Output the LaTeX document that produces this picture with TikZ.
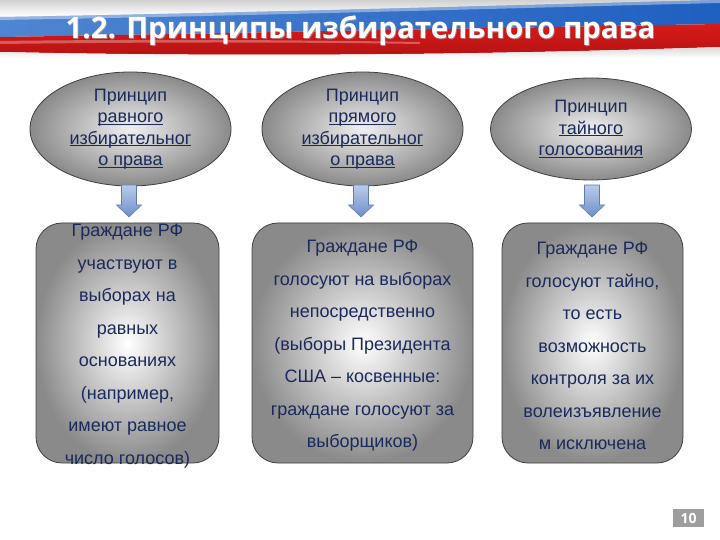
\documentclass[tikz,border=0pt]{standalone}
\usepackage{fontspec}
\setmainfont{Liberation Sans}
\newfontfamily\ttlfont{Open Sans}
\usetikzlibrary{calc,shapes.geometric}
\definecolor{txt}{HTML}{1B2A5C}
\definecolor{flagblue}{HTML}{1F5FC0}
\definecolor{flagbluel}{HTML}{4F86D2}
\definecolor{flagred}{HTML}{D81A1A}
\definecolor{flagredd}{HTML}{B51212}
\definecolor{shin}{HTML}{F0F0F0}
\definecolor{shout}{HTML}{8A8A8A}
\definecolor{arrtop}{HTML}{B9CBEA}
\definecolor{arrbot}{HTML}{6F8FC9}
\definecolor{arrline}{HTML}{5E7DB5}
\definecolor{pggray}{HTML}{9E9E9E}
\newcommand\ulx[1]{\setbox0\hbox{#1}\rlap{\rule[-2.3pt]{\wd0}{0.9pt}}\box0}
\begin{document}
\begin{tikzpicture}[x=1pt,y=-1pt,
  ell/.style={ellipse, draw=black!75, line width=0.8pt, shading=radial,
    inner color=shin, outer color=shout, minimum width=201pt, minimum height=102pt,
    inner sep=0pt, text=txt, align=center, font=\fontsize{18}{21.5}\selectfont},
  box/.style={draw=black!75, line width=0.8pt, rounded corners=26pt, shading=radial,
    inner color=white, outer color=shout, minimum height=240pt, inner sep=0pt},
  btxt/.style={text=txt, align=center, inner sep=0pt, font=\fontsize{18}{32.5}\selectfont},
  arr/.style={draw=arrline, line width=0.6pt, top color=arrtop, bottom color=arrbot},
  ttl/.style={text=white, inner sep=0pt, anchor=base, font=\ttlfont\bfseries\fontsize{29.5}{31}\selectfont},
  pg/.style={fill=pggray, text=white, minimum width=31pt, minimum height=18pt, inner sep=0pt,
    font=\ttlfont\bfseries\fontsize{14}{15}\selectfont}
]
\useasboundingbox (0,0) rectangle (720,540);
\fill[white] (0,0) rectangle (720,540);
% banner
\shade[top color=black!18, bottom color=white] (0,0) rectangle (720,16);
\shade[left color=flagbluel, right color=flagblue] (0,17) .. controls (240,13) and (480,6) .. (720,0)
  -- (720,24) .. controls (480,28) and (240,33) .. (0,37) -- cycle;
\fill[white, opacity=0.4] (0,17) .. controls (240,13) and (480,6) .. (720,0) -- (720,3) .. controls (480,9) and (240,16) .. (0,20) -- cycle;
\shade[top color=flagred, bottom color=flagredd] (0,37) .. controls (240,33) and (480,28) .. (720,24)
  -- (720,47) .. controls (480,55) and (240,57) .. (0,52) -- cycle;
\fill[white, opacity=0.3] (0,41) .. controls (150,39) and (300,40) .. (420,42) -- (420,44) .. controls (300,42) and (150,42) .. (0,44) -- cycle;
\shade[top color=black!15, bottom color=white] (0,52) .. controls (240,57) and (480,55) .. (720,47) -- (720,58) -- (0,58) -- cycle;
\node[ttl, text=black!30, opacity=0.6] at (361.3,39.3) {1.2. Принципы избирательного права};
\node[ttl] (t) at (360.5,38.5) {1.2. Принципы избирательного права};
% ellipses
\node[ell] (e1) at (130.5,129) {Принцип\\\ulx{равного}\\\ulx{избирательног}\\\ulx{о права}};
\node[ell] (e2) at (362.5,129) {Принцип\\\ulx{прямого}\\\ulx{избирательног}\\\ulx{о права}};
\node[ell] (e3) at (591,129) {Принцип\\\ulx{тайного}\\\ulx{голосования}};
% boxes
\node[box, minimum width=183pt] (b1) at (127.5,343) {};
\node[box, minimum width=221pt] (b2) at (362.5,343) {};
\node[box, minimum width=181pt] (b3) at (592.5,343) {};
\node[btxt] (x1) at (127.5,346) {Граждане РФ\\участвуют в\\выборах на\\равных\\основаниях\\(например,\\имеют равное\\число голосов)};
\node[btxt] (x2) at (362.5,346) {Граждане РФ\\голосуют на выборах\\непосредственно\\(выборы Президента\\США – косвенные:\\граждане голосуют за\\выборщиков)};
\node[btxt] (x3) at (592.5,346) {Граждане РФ\\голосуют тайно,\\то есть\\возможность\\контроля за их\\волеизъявление\\м исключена};
% arrows
\coordinate (a1) at (129,185);
\coordinate (a2) at (361,185);
\coordinate (a3) at (592,185);
\foreach \a in {a1,a2,a3}
  \draw[arr] (\a) ++(-7.5,0) -- ++(15,0) -- ++(0,20) -- ++(5,0) -- ++(-12.5,12) -- ++(-12.5,-12) -- ++(5,0) -- cycle;
% page number
\node[pg] (pn) at (688.5,518) {10};
\end{tikzpicture}
\end{document}
